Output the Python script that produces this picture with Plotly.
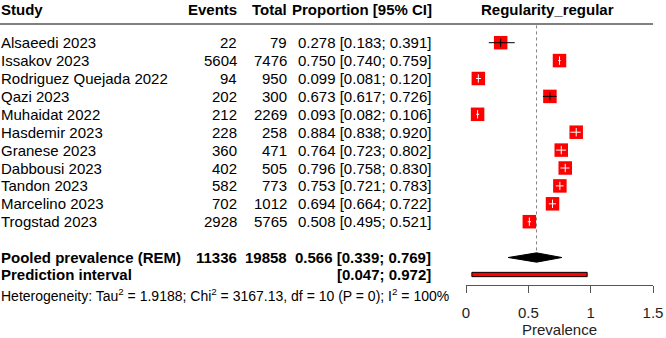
import plotly.graph_objects as go

# ---------------- data ----------------
studies = ["Alsaeedi 2023", "Issakov 2023", "Rodriguez Quejada 2022", "Qazi 2023",
           "Muhaidat 2022", "Hasdemir 2023", "Granese 2023", "Dabbousi 2023",
           "Tandon 2023", "Marcelino 2023", "Trogstad 2023"]
events = [22, 5604, 94, 202, 212, 228, 360, 402, 582, 702, 2928]
totals = [79, 7476, 950, 300, 2269, 258, 471, 505, 773, 1012, 5765]
prop = [0.278, 0.750, 0.099, 0.673, 0.093, 0.884, 0.764, 0.796, 0.753, 0.694, 0.508]
lower = [0.183, 0.740, 0.081, 0.617, 0.082, 0.838, 0.723, 0.758, 0.721, 0.664, 0.495]
upper = [0.391, 0.759, 0.120, 0.726, 0.106, 0.920, 0.802, 0.830, 0.783, 0.722, 0.521]

pooled_label = "Pooled prevalence (REM)"
pooled_events = 11336
pooled_total = 19858
pooled_est = 0.566
pooled_lower = 0.339
pooled_upper = 0.769

pi_label = "Prediction interval"
pi_lower = 0.047
pi_upper = 0.972

het_text = ("Heterogeneity: Tau<sup>2</sup> = 1.9188; Chi<sup>2</sup> = 3167.13, "
            "df = 10 (P = 0); I<sup>2</sup> = 100%")
plot_title = "Regularity_regular"
x_title = "Prevalence"
x_ticks = [0, 0.5, 1, 1.5]
x_ticklabels = ["0", "0.5", "1", "1.5"]
headers = ["Study", "Events", "Total", "Proportion [95% CI]"]

# ---------------- layout helpers ----------------
W, H = 666, 338
FONT = "Liberation Sans, Arial, sans-serif"
FS = 15
ROW0, ROWH = 42.7, 17.9           # pixel y of first row, row spacing


def row_of(py):
    return (py - ROW0) / ROWH


def px(x):
    return x / W


n = len(studies)
rows = list(range(n))
r_head = row_of(9.5)
r_line = row_of(24)
r_pool = row_of(257.5)
r_pi = row_of(274.5)
r_het = row_of(295)

fig = go.Figure()

# squares
fig.add_trace(go.Scatter(
    x=prop, y=rows, mode="markers",
    marker=dict(symbol="square", size=13.5, color="#FF0000", line=dict(width=0)),
    hoverinfo="skip", showlegend=False))

# CI lines: black if extends beyond square, white otherwise
sq_half = 0.054
cols = ["black" if (hi - lo) > 2 * sq_half * 0.95 else "white" for lo, hi in zip(lower, upper)]
for colr in ["black", "white"]:
    xs, ys = [], []
    for i in range(n):
        if cols[i] == colr:
            xs += [lower[i], upper[i], None]
            ys += [rows[i], rows[i], None]
    fig.add_trace(go.Scatter(x=xs, y=ys, mode="lines", line=dict(color=colr, width=1),
                             hoverinfo="skip", showlegend=False))
    fig.add_trace(go.Scatter(
        x=[prop[i] for i in range(n) if cols[i] == colr],
        y=[rows[i] for i in range(n) if cols[i] == colr],
        mode="markers",
        marker=dict(symbol="line-ns", size=6, line=dict(color=colr, width=1)),
        hoverinfo="skip", showlegend=False))

# dotted reference line at pooled estimate
fig.add_trace(go.Scatter(x=[pooled_est, pooled_est], y=[r_line + 0.08, r_pool - 0.28],
                         mode="lines", line=dict(color="#808080", width=1, dash="dot"),
                         hoverinfo="skip", showlegend=False))

# diamond
dh = 0.26
fig.add_trace(go.Scatter(
    x=[pooled_lower, pooled_est, pooled_upper, pooled_est, pooled_lower],
    y=[r_pool, r_pool - dh, r_pool, r_pool + dh, r_pool],
    mode="lines", fill="toself", fillcolor="black", line=dict(color="black", width=1),
    hoverinfo="skip", showlegend=False))

# prediction interval bar
fig.add_shape(type="rect", xref="x", yref="y", x0=pi_lower, x1=pi_upper,
              y0=r_pi - 0.12, y1=r_pi + 0.12, fillcolor="#FF0000",
              line=dict(color="black", width=1))

# header rule
fig.add_shape(type="line", xref="paper", yref="y", x0=px(0), x1=px(653),
              y0=r_line, y1=r_line, line=dict(color="#808080", width=2))

# ---------------- text ----------------
ann = []


def txt(x, y, s, anchor, size=FS, bold=False):
    ann.append(dict(x=px(x), y=y, xref="paper", yref="y", text=("<b>%s</b>" % s) if bold else s,
                    xanchor=anchor, yanchor="middle", showarrow=False,
                    font=dict(family=FONT, size=size, color="black")))


X_STUDY, X_EV, X_TOT, X_PROP = -1, 239, 289, 433
txt(X_STUDY, r_head, headers[0], "left", bold=True)
txt(X_EV, r_head, headers[1], "right", bold=True)
txt(X_TOT, r_head, headers[2], "right", bold=True)
txt(290, r_head, headers[3], "left", bold=True)
txt(547, r_head, plot_title, "center", bold=True)

for i in range(n):
    txt(X_STUDY, rows[i], studies[i], "left")
    txt(X_EV, rows[i], str(events[i]), "right")
    txt(X_TOT, rows[i], str(totals[i]), "right")
    txt(X_PROP, rows[i], "%.3f [%.3f; %.3f]" % (prop[i], lower[i], upper[i]), "right")

txt(X_STUDY, r_pool, pooled_label, "left", bold=True)
txt(X_EV, r_pool, str(pooled_events), "right", bold=True)
txt(X_TOT, r_pool, str(pooled_total), "right", bold=True)
txt(X_PROP, r_pool, "%.3f [%.3f; %.3f]" % (pooled_est, pooled_lower, pooled_upper), "right", bold=True)
txt(X_STUDY, r_pi, pi_label, "left", bold=True)
txt(X_PROP, r_pi, "[%.3f; %.3f]" % (pi_lower, pi_upper), "right", bold=True)
txt(X_STUDY, r_het, het_text, "left", size=14)

fig.update_layout(
    width=W, height=H, margin=dict(l=0, r=0, t=0, b=0, autoexpand=False),
    paper_bgcolor="white", plot_bgcolor="white",
    annotations=ann,
    font=dict(family=FONT, size=FS, color="black"),
    xaxis=dict(domain=[px(466), px(653)], range=[0, 1.5], anchor="free", automargin=False,
               position=1 - 285 / H, showline=True, linecolor="#555555", linewidth=1,
               ticks="outside", ticklen=7, tickwidth=1, tickcolor="#555555",
               tickvals=x_ticks, ticktext=x_ticklabels, ticklabelstandoff=7,
               tickfont=dict(family=FONT, size=FS, color="#222222"),
               showgrid=False, zeroline=False,
               title=dict(text=x_title, standoff=1, font=dict(family=FONT, size=FS, color="#222222"))),
    yaxis=dict(domain=[0, 1], range=[row_of(H), row_of(0)], visible=False, automargin=False,
               showgrid=False, zeroline=False),
)

fig.write_html("out.html", config={"displayModeBar": False},
               post_script="document.body.style.margin='0';document.body.style.overflow='hidden';")
